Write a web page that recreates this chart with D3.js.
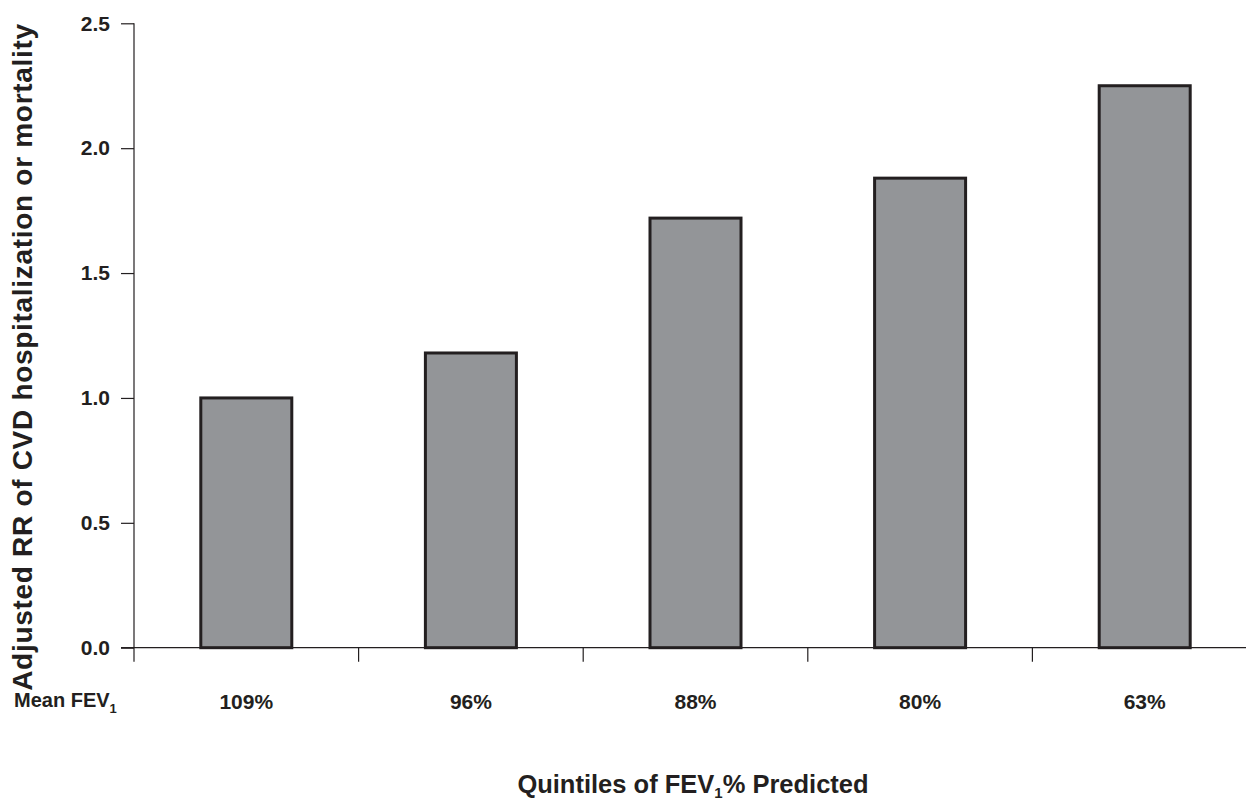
<!DOCTYPE html>
<html>
<head>
<meta charset="utf-8">
<script src="https://cdn.jsdelivr.net/npm/d3@7"></script>
<style>
  html, body { margin: 0; padding: 0; background: #fff; }
  svg text { font-family: "Liberation Sans", Arial, sans-serif; font-weight: bold; fill: #231f20; }
</style>
</head>
<body>
<svg id="chart" width="1246" height="802"></svg>
<script>
const categories = ["109%", "96%", "88%", "80%", "63%"];
const values = [1.0, 1.18, 1.72, 1.88, 2.25];
const yTicks = [0.0, 0.5, 1.0, 1.5, 2.0, 2.5];

const svg = d3.select("#chart");
const x0 = 134, x1 = 1257, yTop = 23.3, yBot = 647.7;

const x = d3.scaleBand().domain(categories).range([x0, x1]).paddingInner(0).paddingOuter(0);
const y = d3.scaleLinear().domain([0, 2.5]).range([yBot, yTop]);

const ink = "#231f20";

// Y axis
const yAxis = d3.axisLeft(y).tickValues(yTicks).tickFormat(d3.format(".1f")).tickSize(13).tickPadding(11);
const gy = svg.append("g").attr("transform", `translate(${x0},0)`).call(yAxis);
gy.select(".domain").remove();
gy.selectAll(".tick line").attr("stroke", ink).attr("stroke-width", 1.2);
gy.selectAll(".tick text").style("font-size", "21px").attr("fill", ink);
svg.append("line").attr("x1", x0).attr("x2", x0).attr("y1", yTop).attr("y2", yBot)
  .attr("stroke", ink).attr("stroke-width", 1.2);

// Bars
svg.append("g").selectAll("rect").data(values).join("rect")
  .attr("x", (d, i) => x(categories[i]) + x.bandwidth() / 2 - 45.5)
  .attr("width", 91)
  .attr("y", d => y(d))
  .attr("height", d => y(0) - y(d))
  .attr("fill", "#939598")
  .attr("stroke", ink)
  .attr("stroke-width", 3);

// X axis line
svg.append("line").attr("x1", 121).attr("x2", 1246).attr("y1", yBot).attr("y2", yBot)
  .attr("stroke", ink).attr("stroke-width", 1.2);
// X ticks at category boundaries
const bounds = categories.map(c => x(c)).concat([x1]);
svg.append("g").selectAll("line").data(bounds).join("line")
  .attr("x1", d => d).attr("x2", d => d)
  .attr("y1", yBot).attr("y2", yBot + 14)
  .attr("stroke", ink).attr("stroke-width", 1.2);

// Category labels
svg.append("g").selectAll("text").data(categories).join("text")
  .attr("x", d => x(d) + x.bandwidth() / 2)
  .attr("y", 709)
  .attr("text-anchor", "middle")
  .style("font-size", "21px")
  .text(d => d);

// Mean FEV1 label
const mf = svg.append("text").attr("x", 14).attr("y", 707).style("font-size", "20px");
mf.append("tspan").text("Mean FEV");
mf.append("tspan").attr("dy", 6).style("font-size", "13px").text("1");

// Y axis title
svg.append("text")
  .attr("transform", "translate(32,357) rotate(-90)")
  .attr("text-anchor", "middle")
  .style("font-size", "28px")
  .style("letter-spacing", "0.7px")
  .text("Adjusted RR of CVD hospitalization or mortality");

// X axis title
const xt = svg.append("text").attr("x", 693).attr("y", 793).attr("text-anchor", "middle").style("font-size", "25.5px");
xt.append("tspan").text("Quintiles of FEV");
xt.append("tspan").attr("dy", 5).style("font-size", "15px").text("1");
xt.append("tspan").attr("dy", -5).text("% Predicted");
</script>
</body>
</html>
